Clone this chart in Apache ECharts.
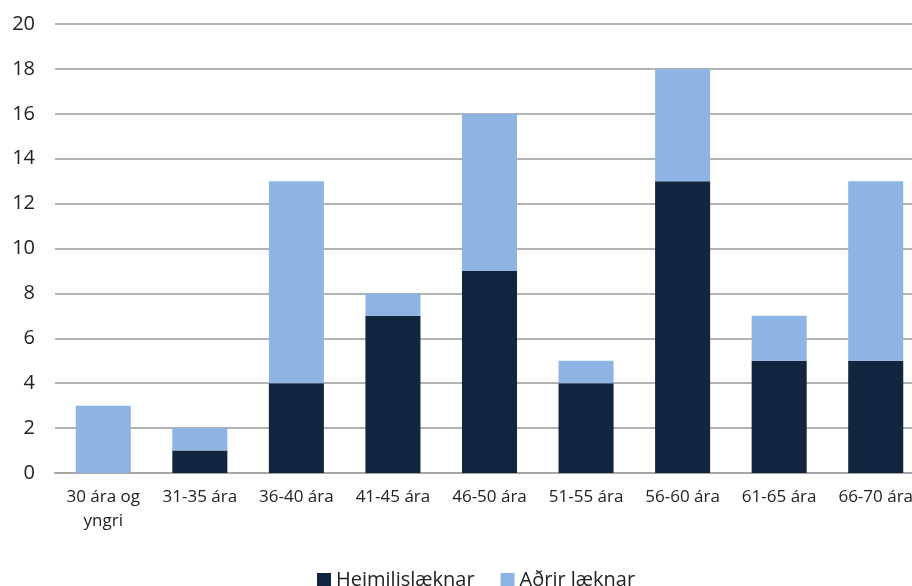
<!DOCTYPE html>
<html>
<head>
<meta charset="UTF-8">
<title></title>
<script src="https://cdn.jsdelivr.net/npm/echarts@6/dist/echarts.min.js"></script>
<style>
  html, body { margin: 0; padding: 0; background: #fff; }
  #main { width: 912px; height: 586px; }
</style>
</head>
<body>
<div id="main"></div>
<script>
// aldurshópar
var categories = ['30 ára og\nyngri', '31-35 ára', '36-40 ára', '41-45 ára', '46-50 ára',
  '51-55 ára', '56-60 ára', '61-65 ára', '66-70 ára'];
var heimilislaeknar = [0, 1, 4, 7, 9, 4, 13, 5, 5];
var adrirLaeknar = [3, 1, 9, 1, 7, 1, 5, 2, 8];

var chart = echarts.init(document.getElementById('main'));
chart.setOption({
  animation: false,
  textStyle: { fontFamily: 'Open Sans' },
  grid: { left: 55, top: 24, width: 869, height: 449, outerBoundsMode: 'none', containLabel: false },
  legend: {
    bottom: -9,
    left: 312,
    itemWidth: 14,
    itemHeight: 14,
    itemGap: 26,
    icon: 'rect',
    textStyle: { fontSize: 20, color: '#222' },
    data: ['Heimilislæknar', 'Aðrir læknar']
  },
  xAxis: {
    type: 'category',
    data: categories,
    axisTick: { show: false },
    axisLine: { lineStyle: { color: '#a6a6a6', width: 2 } },
    axisLabel: { fontSize: 17, color: '#222', margin: 12, lineHeight: 24, interval: 0 }
  },
  yAxis: {
    type: 'value',
    min: 0,
    max: 20,
    interval: 2,
    axisLine: { show: false },
    axisTick: { show: false },
    axisLabel: { fontSize: 20, color: '#222', margin: 20 },
    splitLine: { lineStyle: { color: '#b3b3b3', width: 2 } }
  },
  series: [
    {
      name: 'Heimilislæknar',
      type: 'bar',
      stack: 'total',
      barWidth: '57%',
      itemStyle: { color: '#12253f' },
      data: heimilislaeknar
    },
    {
      name: 'Aðrir læknar',
      type: 'bar',
      stack: 'total',
      itemStyle: { color: '#8eb4e3' },
      data: adrirLaeknar
    }
  ]
});
</script>
</body>
</html>
